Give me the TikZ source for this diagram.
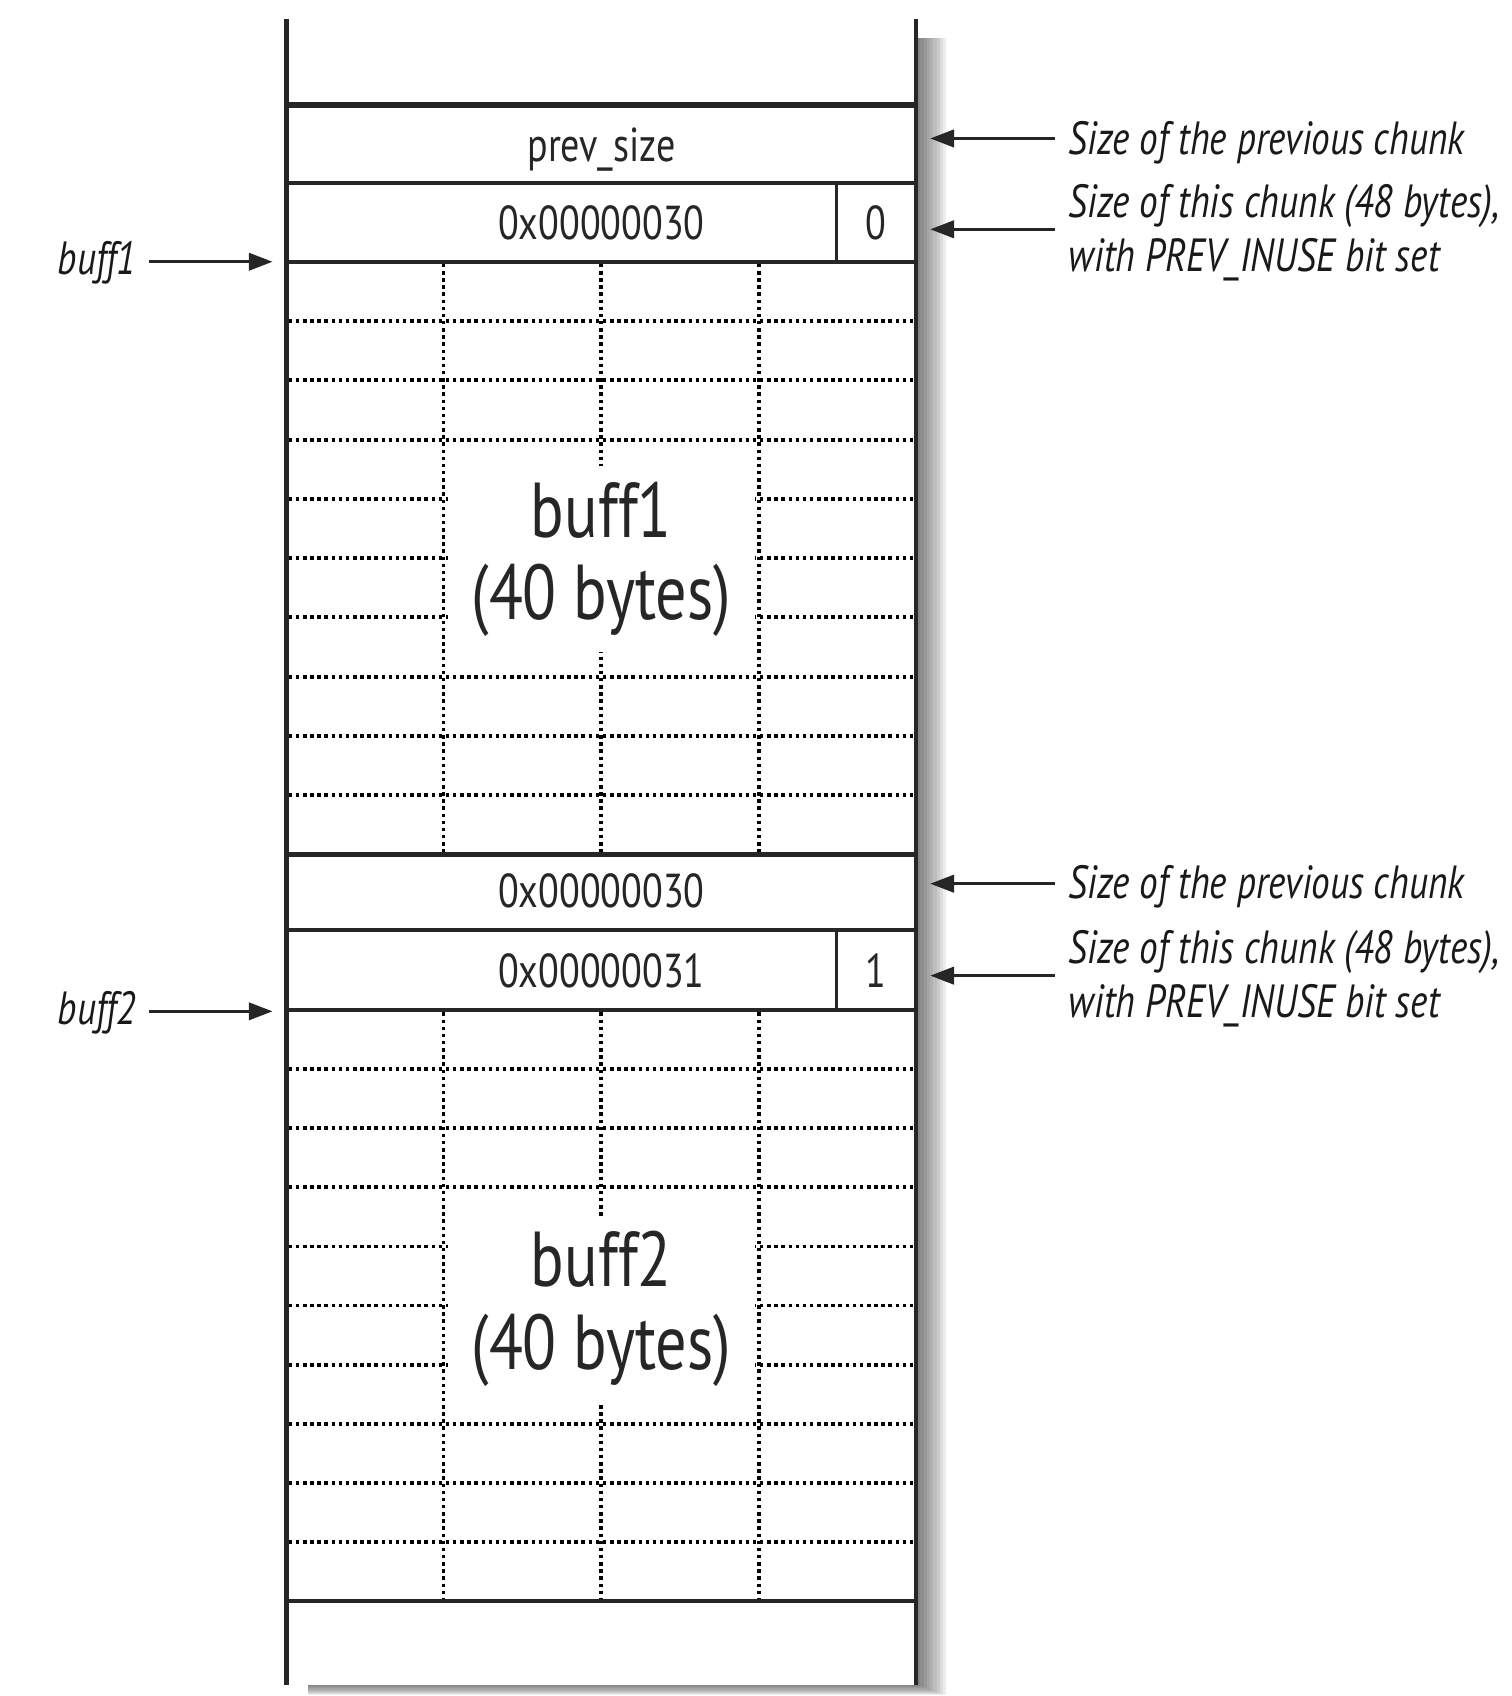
\documentclass[tikz,border=0pt]{standalone}
\usepackage{fontspec}
\setmainfont{PT Sans}[FakeStretch=0.8]
\usetikzlibrary{arrows.meta}
\begin{document}
\begin{tikzpicture}[x=1pt,y=-1pt]
\tikzset{
  wall/.style={line width=4pt, black!85},
  sepline/.style={line width=4pt, black!85},
  thinsep/.style={line width=2.6pt, black!85},
  gridline/.style={line width=3.6pt, dash pattern=on 3.2pt off 3.4pt, black},
  cellt/.style={font=\fontsize{44}{50}\selectfont, inner sep=0pt, anchor=base, text=black!85},
  note/.style={font=\itshape\fontsize{43}{50}\selectfont, anchor=base west, align=left, inner sep=0pt, text=black!90},
  ptr/.style={font=\itshape\fontsize{43}{50}\selectfont, anchor=base east, inner sep=0pt, text=black!90},
  bigt/.style={font=\fontsize{72}{76}\selectfont, fill=white, align=center, inner sep=0pt,
               minimum width=284pt, minimum height=172pt, text=black!85},
  arr/.style={line width=2.8pt, black!85, -{Triangle[length=22pt,width=16pt]}},
}
\useasboundingbox (0,0) rectangle (1397,1568);
% shadow
\foreach \i in {0,...,8}
  \fill[black,opacity=0.07] (285,35) rectangle (851+3*\i,1559+\i);
\fill[white] (265,18) rectangle (847,1558);

% grids
\foreach \top/\bot in {242/790, 934/1480}{
  \foreach \k in {1,...,9}
    \draw[gridline] (267,{\top+\k*(\bot-\top)/10}) -- (845,{\top+\k*(\bot-\top)/10});
  \foreach \xx in {410,556,702}
    \draw[gridline] (\xx,\top+2) -- (\xx,\bot-2);
}

% big labels
\node[bigt] (b1) at (556,517) {buff1\\(40 bytes)};
\node[bigt] (b2) at (556,1210) {buff2\\(40 bytes)};

% horizontal separators
\draw[sepline, line width=5pt] (265,97) -- (847,97);
\foreach \yy in {169,242,790,860,934,1480}
  \draw[sepline] (265,\yy) -- (847,\yy);
\draw[thinsep] (773,169) -- (773,242);
\draw[thinsep] (773,860) -- (773,934);

% walls
\draw[wall] (265,18) -- (265,1558);
\draw[wall] (847,18) -- (847,1558);

% cell texts
\node[cellt] (ps) at (556,149) {prev\_size};
\node[cellt] (s1) at (556,221) {0x00000030};
\node[cellt] (f1) at (810,221) {0};
\node[cellt] (ps2) at (556,839) {0x00000030};
\node[cellt] (s2) at (556,913) {0x00000031};
\node[cellt] (f2) at (810,913) {1};

% right notes
\node[note] (n1) at (988,143) {Size of the previous chunk};
\node[note] (n2) at (988,251) {Size of this chunk (48 bytes),\\with PREV\_INUSE bit set};
\node[note] (n3) at (988,831) {Size of the previous chunk};
\node[note] (n4) at (988,941) {Size of this chunk (48 bytes),\\with PREV\_INUSE bit set};

\coordinate (a1s) at (975,128); \coordinate (a1e) at (860,128);
\coordinate (a2s) at (975,212); \coordinate (a2e) at (860,212);
\coordinate (a3s) at (975,817); \coordinate (a3e) at (860,817);
\coordinate (a4s) at (975,902); \coordinate (a4e) at (860,902);
\draw[arr] (a1s) -- (a1e);
\draw[arr] (a2s) -- (a2e);
\draw[arr] (a3s) -- (a3e);
\draw[arr] (a4s) -- (a4e);

% left pointers
\node[ptr] (p1) at (126,254) {buff1};
\node[ptr] (p2) at (126,947) {buff2};
\coordinate (l1s) at (138,242); \coordinate (l1e) at (252,242);
\coordinate (l2s) at (138,935); \coordinate (l2e) at (252,935);
\draw[arr] (l1s) -- (l1e);
\draw[arr] (l2s) -- (l2e);
\end{tikzpicture}
\end{document}
